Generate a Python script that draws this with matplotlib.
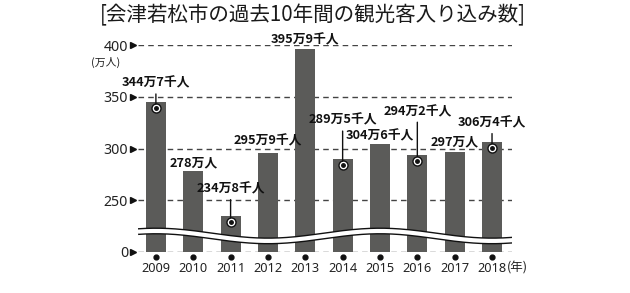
import matplotlib
matplotlib.use("Agg")
import matplotlib.pyplot as plt
import matplotlib.transforms as mtransforms
from matplotlib import font_manager
import numpy as np

years = ["2009", "2010", "2011", "2012", "2013", "2014", "2015", "2016", "2017", "2018"]
values = [344.7, 278.0, 234.8, 295.9, 395.9, 289.5, 304.6, 294.2, 297.0, 306.4]
labels = ["344万7千人", "278万人", "234万8千人", "295万9千人", "395万9千人",
          "289万5千人", "304万6千人", "294万2千人", "297万人", "306万4千人"]
yticks = [200, 250, 300, 350, 400]
ytick_labels = ["0", "250", "300", "350", "400"]
title = "[会津若松市の過去10年間の観光客入り込み数]"

# layout: label offset (px above bar top) and whether it has a leader line
label_off = [19, 8, 27, 12, 9, 39, 8, 43, 10, 19]
leader = [True, False, True, False, False, True, False, True, False, True]

names = {f.name for f in font_manager.fontManager.ttflist}
jp = "Noto Sans CJK JP"
narrow = ["Liberation Sans Narrow"] if "Liberation Sans Narrow" in names else []

fig = plt.figure(figsize=(6.3, 2.93), dpi=100)
ax = fig.add_axes([0.219, 0.140, 0.594, 0.706])
bar_color = "#5b5b59"
x = np.arange(len(years))
ax.bar(x, values, width=0.54, color=bar_color, zorder=3)
ax.set_xlim(-0.48, 9.54)
ax.set_ylim(200, 400)

for s in ax.spines.values():
    s.set_visible(False)

for yt in yticks:
    ax.axhline(yt, color="#444444", lw=1.0, ls=(0, (4, 3)), zorder=1)

ax.set_yticks(yticks)
ax.set_yticklabels(ytick_labels, family=["Noto Sans", jp], fontsize=10.2, color="#222222")
ax.tick_params(axis="y", length=0, pad=7.0)
ax.set_xticks(x)
ax.set_xticklabels(years, family=["Noto Sans", jp], fontsize=9.2, color="#222222")
ax.tick_params(axis="x", length=0, pad=7.0)

# triangles at y ticks
tri_tr = mtransforms.offset_copy(ax.get_yaxis_transform(), fig, x=-5, y=0, units="dots")
ax.plot([0] * len(yticks), yticks, ls="none", marker=">", ms=5, color="#111111",
        transform=tri_tr, clip_on=False)
# dots under years
dot_tr = mtransforms.offset_copy(ax.get_xaxis_transform(), fig, x=0, y=-5, units="dots")
ax.plot(x, [0] * len(x), ls="none", marker="o", ms=3.5, color="#111111",
        transform=dot_tr, clip_on=False)

# unit labels
ax.text(-0.087, 0.918, "(万人)", transform=ax.transAxes, ha="center", va="center",
        fontsize=7.8, family=[jp], color="#222222")
yr_tr = mtransforms.offset_copy(ax.get_xaxis_transform(), fig, x=15, y=-16.5, units="dots")
ax.text(9, 0, "(年)", transform=yr_tr, ha="left", va="center", fontsize=9,
        family=[jp], color="#222222", clip_on=False)

# wavy break band (decoration)
wx = np.linspace(-0.48, 9.54, 300)
wy = 215.5 + 4.8 * np.cos(2 * np.pi * wx / 6.0)
ax.plot(wx, wy, color="#111111", lw=5.0, zorder=5, solid_capstyle="butt")
ax.plot(wx, wy, color="white", lw=3.0, zorder=6, solid_capstyle="butt")

# value labels
circ_tr = mtransforms.offset_copy(ax.transData, fig, x=0, y=-6, units="dots")
lab_font = dict(fontsize=9.2, fontweight="bold", family=narrow + [jp], color="#111111")
for i, (v, lab, off, ld) in enumerate(zip(values, labels, label_off, leader)):
    if ld:
        ax.plot([i], [v], marker="o", ms=6.5, mfc="white", mec="#111111", mew=1.0,
                transform=circ_tr, zorder=7)
        ax.plot([i], [v], marker="o", ms=2.5, color="#111111", transform=circ_tr, zorder=8)
        ax.annotate(lab, xy=(i, v), xycoords=circ_tr,
                    xytext=(0, (off + 6) * 0.72), textcoords="offset points",
                    ha="center", va="center", zorder=8, annotation_clip=False,
                    arrowprops=dict(arrowstyle="-", lw=1.0, color="#111111",
                                    relpos=(0.5, 0.0), shrinkA=1, shrinkB=3),
                    **lab_font)
    else:
        ax.annotate(lab, xy=(i, v), xytext=(0, off * 0.72), textcoords="offset points",
                    ha="center", va="center", zorder=8, annotation_clip=False, **lab_font)

fig.text(0.497, 0.948, title, ha="center", va="center", fontsize=14.8,
         family=[jp, "DejaVu Sans"], color="#1a1a1a")

fig.savefig("out.png", dpi=100)
